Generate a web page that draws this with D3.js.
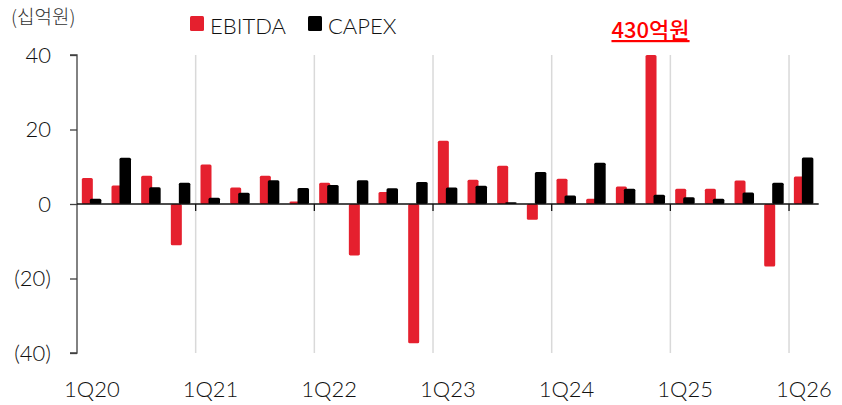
<!DOCTYPE html>
<html><head><meta charset="utf-8">
<script src="https://cdn.jsdelivr.net/npm/d3@7"></script>
<style>body{margin:0;background:#fff}svg{display:block}</style>
</head><body><svg id="c" width="842" height="405"></svg>
<script>
const quarters = ["1Q20","2Q20","3Q20","4Q20","1Q21","2Q21","3Q21","4Q21","1Q22","2Q22","3Q22","4Q22","1Q23","2Q23","3Q23","4Q23","1Q24","2Q24","3Q24","4Q24","1Q25","2Q25","3Q25","4Q25","1Q26"];
const ebitda = [7.0,5.0,7.6,-11.1,10.6,4.4,7.6,0.7,5.7,-13.8,3.2,-37.4,17.0,6.5,10.3,-4.2,6.8,1.4,4.7,43.0,4.1,4.1,6.3,-16.8,7.4];
const capex  = [1.4,12.4,4.5,5.7,1.7,3.0,6.4,4.3,5.1,6.4,4.2,5.9,4.4,4.9,0.5,8.6,2.3,11.1,4.1,2.5,1.8,1.4,3.1,5.7,12.5];
const yTicks = [40,20,0,-20,-40];
const yTickLabels = ["40","20","0","(20)","(40)"];
const xTickLabels = ["1Q20","1Q21","1Q22","1Q23","1Q24","1Q25","1Q26"];
const seriesNames = ["EBITDA","CAPEX"];
const colors = ["#E5202E","#000000"];
const unitLabel = "(십억원)";
const callout = "430억원";

const svg = d3.select("#c");
const font = "Lato, 'Noto Sans', sans-serif";
const fw = 300;
const x = d3.scaleBand().domain(quarters).range([77, 818.7]).padding(0);
const y = d3.scaleLinear().domain([-40, 40]).range([353, 55]).clamp(true);
const y0 = y(0);

quarters.forEach((q, i) => {
  if (i > 0 && i % 4 === 0) {
    svg.append("line").attr("x1", x(q)).attr("x2", x(q)).attr("y1", y(40)).attr("y2", y(-40))
      .attr("stroke", "#d9d9d9").attr("stroke-width", 1.5);
  }
});

const cx = q => x(q) + x.bandwidth() / 2;
function barGeom(x0, v, w) {
  const yv = y(v);
  return {x: x0, y: Math.min(yv, y0), w: w, h: Math.abs(yv - y0)};
}
svg.append("g").selectAll("rect").data(quarters).join("rect")
  .each(function(q, i){
    const b = barGeom(cx(q) - 10, ebitda[i], 11);
    d3.select(this).attr("x", b.x).attr("y", b.y).attr("width", b.w).attr("height", b.h);
  })
  .attr("rx", 1.5).attr("fill", colors[0]);
svg.append("g").selectAll("rect").data(quarters).join("rect")
  .each(function(q, i){
    const b = barGeom(cx(q) - 2, capex[i], 11.5);
    d3.select(this).attr("x", b.x).attr("y", b.y).attr("width", b.w).attr("height", b.h);
  })
  .attr("rx", 1.5).attr("fill", colors[1]);

const yAxis = d3.axisLeft(y).tickValues(yTicks).tickSize(7).tickFormat((d, i) => yTickLabels[i]);
const gy = svg.append("g").attr("transform", "translate(77,0)").call(yAxis);
gy.select(".domain").attr("stroke", "#404040").attr("stroke-width", 1.3).attr("d", `M-7,${y(40)}H0V${y(-40)}H-7`);
gy.selectAll(".tick line").attr("stroke", "#404040").attr("stroke-width", 1.3);
gy.selectAll(".tick text").attr("x", -26).attr("font-family", font).attr("font-weight", fw).attr("font-size", 22).attr("fill", "#111");

svg.append("line").attr("x1", 77).attr("x2", 818.7).attr("y1", y0).attr("y2", y0)
  .attr("stroke", "#111").attr("stroke-width", 1.3);
quarters.forEach((q, i) => {
  if (i > 0 && i % 4 === 0) {
    svg.append("line").attr("x1", x(q)).attr("x2", x(q)).attr("y1", y0).attr("y2", y0 + 7)
      .attr("stroke", "#111").attr("stroke-width", 1.3);
  }
});
svg.append("g").selectAll("text").data(xTickLabels).join("text")
  .attr("x", d => cx(d)).attr("y", 397).attr("text-anchor", "middle")
  .attr("font-family", font).attr("font-weight", fw).attr("font-size", 22).attr("fill", "#111").text(d => d);

svg.append("text").attr("x", 11).attr("y", 24).attr("font-family", "'Noto Sans CJK KR', sans-serif")
  .attr("font-weight", 300).attr("font-size", 19).attr("fill", "#333").text(unitLabel);

const legX = [190, 308];
seriesNames.forEach((n, i) => {
  svg.append("rect").attr("x", legX[i]).attr("y", 16).attr("width", 14).attr("height", 15).attr("rx", 1.5).attr("fill", colors[i]);
  svg.append("text").attr("x", legX[i] + 20).attr("y", 34).attr("font-family", font).attr("font-weight", fw).attr("font-size", 22)
    .attr("fill", "#111").text(n);
});

const ci = quarters.indexOf("4Q24");
svg.append("text").attr("x", cx(quarters[ci]) - 5).attr("y", 38).attr("text-anchor", "middle")
  .attr("font-family", "'Noto Sans CJK KR', sans-serif").attr("font-size", 22).attr("font-weight", 500)
  .attr("fill", "#ff0000").attr("text-decoration", "underline").text(callout);
</script></body></html>
